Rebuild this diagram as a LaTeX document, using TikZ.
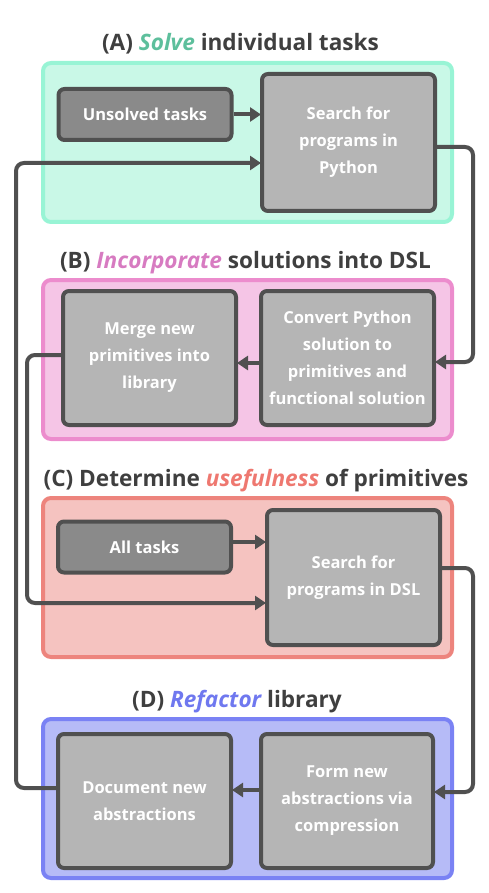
\documentclass[tikz,border=0pt]{standalone}
\usepackage{fontspec}
\setmainfont{Open Sans}
\usetikzlibrary{arrows.meta}
\definecolor{tgray}{HTML}{3F3F3F}
\definecolor{lgray}{HTML}{505050}
\definecolor{boxl}{HTML}{B5B5B5}
\definecolor{boxd}{HTML}{8A8A8A}
\definecolor{afill}{HTML}{C9F8E7}\definecolor{aline}{HTML}{98F4D5}\definecolor{atxt}{HTML}{5DBF9C}
\definecolor{bfill}{HTML}{F5C5E6}\definecolor{bline}{HTML}{EC8CCD}\definecolor{btxt}{HTML}{D77BC1}
\definecolor{cfill}{HTML}{F5C3C0}\definecolor{cline}{HTML}{ED847D}\definecolor{ctxt}{HTML}{EE7870}
\definecolor{dfill}{HTML}{B6BBF7}\definecolor{dline}{HTML}{7A82F4}\definecolor{dtxt}{HTML}{6F78EF}
\tikzset{
  panel/.style={draw=#1line, fill=#1fill, line width=4pt, rounded corners=8pt, minimum width=409pt, minimum height=159pt},
  stepbox/.style={draw=lgray, fill=boxl, line width=4pt, rounded corners=6pt, minimum width=173pt, minimum height=134pt, text=white, font=\bfseries\fontsize{16.5}{27}\selectfont, align=center, inner sep=0pt},
  darkbox/.style={stepbox, fill=boxd, minimum height=51pt},
  ttl/.style={text=tgray, font=\bfseries\fontsize{22.6}{26}\selectfont, anchor=base, inner sep=0pt},
  conn/.style={draw=lgray, line width=4pt, rounded corners=8pt, -{Triangle[length=11pt,width=14pt]}, shorten >=-1pt},
}
\begin{document}
\begin{tikzpicture}[x=1pt,y=-1pt]
\useasboundingbox (0,0) rectangle (489,893);
% titles
\node[ttl] (ta) at (240.5,51) {(A) \textcolor{atxt}{\itshape Solve} individual tasks};
\node[ttl] (tb) at (245.5,268) {(B) \textcolor{btxt}{\itshape Incorporate} solutions into DSL};
\node[ttl] (tc) at (256,486) {(C) Determine \textcolor{ctxt}{\itshape usefulness} of primitives};
\node[ttl] (td) at (237,707) {(D) \textcolor{dtxt}{\itshape Refactor} library};
% panels
\node[panel=a] (pa) at (247.5,142.5) {};
\node[panel=b] (pb) at (247.5,359.5) {};
\node[panel=c] (pc) at (247.5,577.5) {};
\node[panel=d] (pd) at (247.5,798.5) {};
% boxes
\node[darkbox] (uns) at (145,114.5) {Unsolved tasks};
\node[stepbox, minimum height=137pt] (spy) at (348.5,142.5) {Search for\\programs in\\Python};
\node[stepbox] (merge) at (149.5,358) {Merge new\\primitives into\\library};
\node[stepbox] (conv) at (347.5,358) {Convert Python\\solution to\\primitives and\\functional solution};
\node[darkbox] (all) at (144.5,547) {All tasks};
\node[stepbox, minimum height=135pt] (sdsl) at (353.5,577.5) {Search for\\programs in DSL};
\node[stepbox] (doc) at (144.5,801) {Document new\\abstractions};
\node[stepbox, minimum width=172pt] (form) at (347,801) {Form new\\abstractions via\\compression};
% waypoints
\coordinate (rx) at (473,0);
\coordinate (lx) at (16,0);
\coordinate (mx) at (27,0);
\coordinate (ya) at (0,163);
\coordinate (yc) at (0,603);
% connectors
\draw[conn] (uns.east) -- (uns.east -| spy.west);
\draw[conn] ([yshift=-4.5pt]spy.east) -| ([yshift=-4pt]rx |- conv.east) -- ([yshift=-4pt]conv.east);
\draw[conn] ([yshift=-5pt]conv.west) -- ([yshift=-5pt]merge.east);
\draw[conn] ([yshift=3pt]merge.west) -| (mx |- yc) -- (yc -| sdsl.west);
\draw[conn] ([yshift=5pt]all.east) -- ([yshift=5pt]all.east -| sdsl.west);
\draw[conn] ([yshift=9.5pt]sdsl.east) -| ([yshift=9pt]rx |- form.east) -- ([yshift=9pt]form.east);
\draw[conn] ([yshift=11pt]form.west) -- ([yshift=11pt]doc.east);
\draw[conn] ([yshift=13pt]doc.west) -| (lx |- ya) -- (ya -| spy.west);
\end{tikzpicture}
\end{document}
